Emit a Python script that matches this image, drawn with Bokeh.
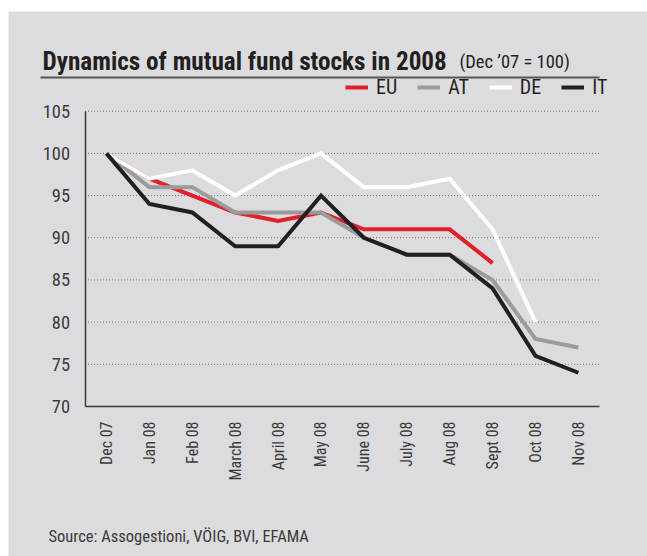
import math
from bokeh.plotting import figure
from bokeh.models import (Range1d, FixedTicker, Label, Legend, LegendItem,
                          BoxAnnotation, Spacer)
from bokeh.layouts import column, row
from bokeh.embed import file_html
from bokeh.resources import INLINE

# ---- data ----
months = ["Dec 07", "Jan 08", "Feb 08", "March 08", "April 08", "May 08",
          "June 08", "July 08", "Aug 08", "Sept 08", "Oct 08", "Nov 08"]
eu = [100, 97, 95, 93, 92, 93, 91, 91, 91, 87]
at = [100, 96, 96, 93, 93, 93, 90, 88, 88, 85, 78, 77]
de = [100, 97, 98, 95, 98, 100, 96, 96, 97, 91, 80]
it = [100, 94, 93, 89, 89, 95, 90, 88, 88, 84, 76, 74]
y_ticks = [70, 75, 80, 85, 90, 95, 100, 105]
series_names = ["EU", "AT", "DE", "IT"]
series_colors = ["#e3202a", "#9b9b9b", "#ffffff", "#231f20"]
series_values = [eu, at, de, it]

BG = "#dcdcde"
DARK = "#231f20"
FONT = "Roboto Condensed"
W, H = 639, 545
lw = 4

# frame = whole canvas; plot region set through ranges + fixed axes
p = figure(width=W, height=H, x_range=Range1d(-2.284, 12.611),
           y_range=Range1d(52.22, 116.82), output_backend="svg",
           toolbar_location=None, min_border=0,
           background_fill_color=BG, border_fill_color=BG,
           outline_line_color=None)
p.grid.visible = False

xmin, xmax = -0.5, len(months) - 0.5
ymin, ymax = min(y_ticks), max(y_ticks)

# dotted horizontal gridlines across the plot region
p.segment(x0=xmin, x1=xmax, y0=y_ticks, y1=y_ticks, line_color="#777777",
          line_dash="1 2", line_width=1)

xa, ya = p.xaxis[0], p.yaxis[0]
xa.fixed_location = ymin
xa.bounds = (xmin, xmax)
ya.fixed_location = xmin
ya.bounds = (ymin, ymax)
for ax in (xa, ya):
    ax.axis_line_color = "#3a3a3a"
    ax.axis_line_width = 1.5
    ax.major_tick_line_color = None
    ax.minor_tick_line_color = None
    ax.major_label_text_color = "#3a3a3a"
    ax.major_label_text_font = FONT
xa.ticker = FixedTicker(ticks=list(range(len(months))))
xa.major_label_overrides = {i: m for i, m in enumerate(months)}
xa.major_label_orientation = math.pi / 2
xa.major_label_text_font_size = "16px"
xa.major_label_standoff = 9
ya.ticker = FixedTicker(ticks=y_ticks)
ya.major_label_text_font_size = "18.5px"
ya.major_label_standoff = 9

renderers = []
for vals, c in zip(series_values, series_colors):
    renderers.append(p.line(list(range(len(vals))), vals, line_color=c,
                            line_width=lw, line_join="miter"))

legend = Legend(items=[LegendItem(label=n, renderers=[r]) for n, r in zip(series_names, renderers)],
                orientation="horizontal", location=(337, 457), padding=0,
                spacing=20, label_standoff=8, glyph_width=23, glyph_height=20,
                label_height=20, background_fill_alpha=0, border_line_alpha=0,
                label_text_font=FONT, label_text_font_size="20px",
                label_text_color=DARK, margin=0)
p.add_layout(legend)

p.add_layout(Label(x=34, y=495, x_units="screen", y_units="screen",
                   text="Dynamics of mutual fund stocks in 2008",
                   text_font=FONT, text_font_size="25.2px",
                   text_font_style="bold", text_color=DARK,
                   text_baseline="alphabetic"))
p.add_layout(Label(x=451, y=495, x_units="screen", y_units="screen",
                   text="(Dec \u201907 = 100)",
                   text_font=FONT, text_font_size="18.5px",
                   text_color=DARK, text_baseline="alphabetic"))
p.add_layout(BoxAnnotation(left=32, right=591, bottom=478, top=480,
                           left_units="screen", right_units="screen",
                           bottom_units="screen", top_units="screen",
                           fill_color="#555555", fill_alpha=1, line_color=None))
p.add_layout(Label(x=40, y=20, x_units="screen", y_units="screen",
                   text="Source: Assogestioni, V\u00d6IG, BVI, EFAMA",
                   text_font=FONT, text_font_size="16.5px",
                   text_color="#3a3a3a", text_baseline="alphabetic"))

layout = column(Spacer(width=W + 8, height=11),
                row(Spacer(width=8, height=H), p))
open("out.html", "w").write(file_html(layout, INLINE))
